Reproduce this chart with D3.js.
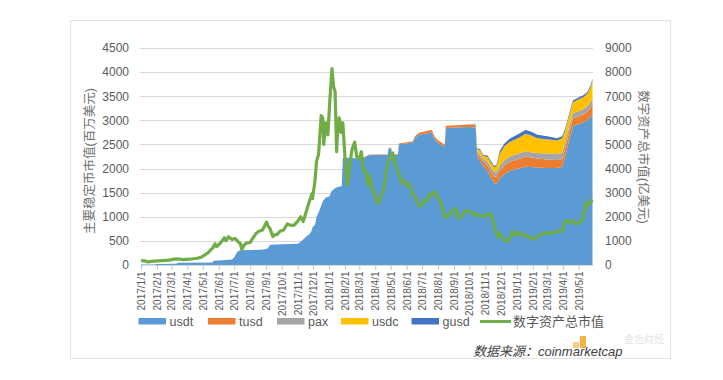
<!DOCTYPE html>
<html><head><meta charset="utf-8">
<script src="https://cdn.jsdelivr.net/npm/d3@7"></script>
<style>
html,body{margin:0;padding:0;background:#fff;}
svg{display:block;}
</style></head>
<body><svg id="c" width="723" height="380"></svg>
<script>
// ---------- DATA ----------
const stableDates = ["2017-01-01","2017-01-25","2017-02-01","2017-03-10","2017-03-15","2017-05-20","2017-05-22","2017-06-10","2017-06-27","2017-07-02","2017-07-06","2017-07-12","2017-08-01","2017-08-28","2017-09-04","2017-09-09","2017-10-01","2017-11-01","2017-11-05","2017-11-12","2017-11-18","2017-11-24","2017-11-28","2017-12-01","2017-12-05","2017-12-08","2017-12-12","2017-12-16","2017-12-20","2017-12-26","2018-01-02","2018-01-06","2018-01-14","2018-01-26","2018-01-28","2018-02-15","2018-03-01","2018-03-10","2018-03-20","2018-04-10","2018-04-25","2018-04-27","2018-05-02","2018-05-04","2018-05-15","2018-05-17","2018-06-13","2018-06-17","2018-06-25","2018-07-10","2018-07-20","2018-07-25","2018-08-01","2018-08-14","2018-08-16","2018-09-15","2018-10-01","2018-10-13","2018-10-16","2018-10-22","2018-10-28","2018-11-05","2018-11-12","2018-11-18","2018-11-22","2018-11-29","2018-12-08","2018-12-18","2019-01-05","2019-01-18","2019-01-28","2019-02-10","2019-03-01","2019-03-20","2019-03-30","2019-04-05","2019-04-12","2019-04-20","2019-04-30","2019-05-10","2019-05-18","2019-05-24","2019-05-28"];
const usdt = [10,10,20,25,45,50,90,100,115,170,260,305,310,320,340,420,430,440,460,530,590,640,700,800,830,1000,1090,1200,1320,1400,1420,1530,1600,1640,2230,2220,2210,2230,2280,2280,2280,2420,2420,2280,2280,2500,2540,2640,2700,2730,2745,2620,2530,2450,2840,2855,2860,2850,2250,2150,2050,1950,1800,1700,1680,1800,1880,1950,2000,2040,2030,2020,2010,2010,2030,2250,2550,2880,2920,2950,3000,3070,3140];
const tusd = [0,0,0,0,0,0,0,0,0,0,0,0,0,0,0,0,0,0,0,0,0,0,0,0,0,0,0,0,0,0,0,0,0,0,0,0,0,5,5,10,10,10,10,10,15,20,25,30,40,50,55,50,50,50,50,50,55,60,70,80,90,110,130,140,150,160,180,190,200,210,200,190,180,170,170,170,170,160,160,170,180,190,210];
const pax = [0,0,0,0,0,0,0,0,0,0,0,0,0,0,0,0,0,0,0,0,0,0,0,0,0,0,0,0,0,0,0,0,0,0,0,0,0,0,0,0,0,0,0,0,0,0,0,0,0,0,0,0,0,0,0,0,5,10,40,50,60,80,90,90,90,100,110,110,110,110,110,110,120,120,125,120,115,110,110,110,110,110,110];
const usdc = [0,0,0,0,0,0,0,0,0,0,0,0,0,0,0,0,0,0,0,0,0,0,0,0,0,0,0,0,0,0,0,0,0,0,0,0,0,0,0,0,0,0,0,0,0,0,0,0,0,0,0,0,0,0,0,0,0,5,40,100,60,100,100,100,120,250,290,300,330,360,350,310,300,280,300,250,230,220,240,250,260,310,370];
const gusd = [0,0,0,0,0,0,0,0,0,0,0,0,0,0,0,0,0,0,0,0,0,0,0,0,0,0,0,0,0,0,0,0,0,0,0,0,0,0,0,0,0,0,0,0,0,0,0,0,0,0,0,0,0,0,0,0,0,5,20,20,20,30,30,30,30,60,60,70,80,80,80,70,60,50,45,40,40,40,40,40,40,40,40];

const mcapDates = ["2017-01-01","2017-01-08","2017-01-15","2017-01-25","2017-02-10","2017-02-25","2017-03-05","2017-03-14","2017-03-25","2017-04-06","2017-04-20","2017-04-28","2017-05-05","2017-05-12","2017-05-16","2017-05-20","2017-05-25","2017-05-28","2017-06-03","2017-06-08","2017-06-12","2017-06-15","2017-06-20","2017-06-27","2017-07-03","2017-07-09","2017-07-13","2017-07-16","2017-07-20","2017-07-24","2017-08-01","2017-08-06","2017-08-13","2017-08-18","2017-08-25","2017-08-31","2017-09-02","2017-09-05","2017-09-08","2017-09-14","2017-09-16","2017-09-22","2017-09-28","2017-10-05","2017-10-12","2017-10-18","2017-10-25","2017-11-01","2017-11-07","2017-11-12","2017-11-17","2017-11-25","2017-11-29","2017-11-30","2017-12-05","2017-12-08","2017-12-12","2017-12-17","2017-12-20","2017-12-22","2017-12-26","2017-12-30","2018-01-03","2018-01-07","2018-01-10","2018-01-13","2018-01-16","2018-01-18","2018-01-21","2018-01-24","2018-01-28","2018-02-02","2018-02-06","2018-02-10","2018-02-15","2018-02-20","2018-02-24","2018-03-01","2018-03-05","2018-03-09","2018-03-13","2018-03-18","2018-03-21","2018-03-27","2018-04-01","2018-04-06","2018-04-11","2018-04-17","2018-04-22","2018-04-26","2018-05-05","2018-05-10","2018-05-13","2018-05-17","2018-05-23","2018-05-28","2018-06-01","2018-06-07","2018-06-12","2018-06-18","2018-06-24","2018-06-29","2018-07-05","2018-07-10","2018-07-16","2018-07-20","2018-07-25","2018-07-30","2018-08-05","2018-08-10","2018-08-14","2018-08-18","2018-08-22","2018-08-28","2018-09-04","2018-09-08","2018-09-12","2018-09-18","2018-09-22","2018-09-28","2018-10-05","2018-10-11","2018-10-15","2018-10-22","2018-10-30","2018-11-06","2018-11-13","2018-11-16","2018-11-20","2018-11-25","2018-11-28","2018-12-03","2018-12-07","2018-12-14","2018-12-19","2018-12-24","2018-12-29","2019-01-06","2019-01-10","2019-01-18","2019-01-28","2019-02-05","2019-02-10","2019-02-18","2019-02-24","2019-03-01","2019-03-10","2019-03-18","2019-03-25","2019-03-31","2019-04-03","2019-04-08","2019-04-14","2019-04-20","2019-04-26","2019-05-01","2019-05-08","2019-05-12","2019-05-16","2019-05-18","2019-05-22","2019-05-28"];
const mcap = [180,170,130,160,180,200,240,250,220,240,280,320,420,520,620,700,880,760,880,1020,1130,1000,1170,1060,1100,960,880,640,820,900,940,1100,1320,1400,1450,1700,1780,1600,1540,1180,1250,1260,1400,1450,1700,1650,1640,1800,2000,1800,2150,2700,2950,2750,3500,4300,4600,6200,6100,5000,5900,5400,6900,8150,7400,7200,4700,5600,6100,5500,5900,4200,3300,4100,4800,5100,4500,4400,4700,3900,3900,3300,3700,3100,2800,2550,2800,3100,3800,4300,4650,4200,3950,3750,3400,3500,3300,3350,2950,2800,2500,2450,2700,2650,2950,2900,3050,2850,2650,2300,1950,2050,2050,2250,2350,1950,1950,2100,2250,2200,2200,2050,2100,2050,2000,2150,2050,1750,1500,1150,1300,1200,1050,960,1150,1400,1250,1350,1220,1250,1100,1080,1200,1250,1350,1300,1330,1400,1380,1450,1750,1850,1750,1850,1700,1750,1850,2250,2600,2450,2550,2700];

const seriesKeys = ["usdt","tusd","pax","usdc","gusd"];
const seriesColors = ["#5B9BD5","#ED7D31","#A5A5A5","#FFC000","#4472C4"];
const lineName = "数字资产总市值";
const lineColor = "#70AD47";
const leftTicks = [0,500,1000,1500,2000,2500,3000,3500,4000,4500];
const rightTicks = [0,1000,2000,3000,4000,5000,6000,7000,8000,9000];
const leftTitle = "主要稳定币市值(百万美元)";
const rightTitle = "数字资产总市值(亿美元)";
const sourceText = "数据来源：coinmarketcap";
const watermarkText = "金色财经";

// ---------- CHART ----------
const parse = d3.utcParse("%Y-%m-%d");
const svg = d3.select("#c");
const latin = "'Liberation Sans', Arial, sans-serif";
const cjk = "'Liberation Sans','Noto Sans CJK SC', sans-serif";

// frame
svg.append("rect").attr("x",70.5).attr("y",20.5).attr("width",600).attr("height",338)
  .attr("fill","none").attr("stroke","#e3e3e3");

const x = d3.scaleUtc().domain([parse("2017-01-01"), parse("2019-05-28")]).range([141, 592.5]);
const yL = d3.scaleLinear().domain([0,4500]).range([265,48]);
const yR = d3.scaleLinear().domain([0,9000]).range([265,48]);

// gridlines
svg.append("g").selectAll("line").data(leftTicks).join("line")
  .attr("x1",140).attr("x2",593).attr("y1",d=>Math.round(yL(d))+0.5).attr("y2",d=>Math.round(yL(d))+0.5)
  .attr("stroke","#d9d9d9").attr("stroke-width",1);

// stacked areas
const rows = stableDates.map((d,i)=>({date:parse(d), usdt:usdt[i], tusd:tusd[i], pax:pax[i], usdc:usdc[i], gusd:gusd[i]}));
const stacked = d3.stack().keys(seriesKeys)(rows);
const area = d3.area().x(d=>x(d.data.date)).y0(d=>yL(d[0])).y1(d=>yL(d[1]));
svg.append("g").selectAll("path").data(stacked).join("path")
  .attr("d",area).attr("fill",(d,i)=>seriesColors[i]);

// x axis
const monthTicks = d3.utcMonth.range(parse("2017-01-01"), parse("2019-05-02"));
const xAxis = d3.axisBottom(x).tickValues(monthTicks).tickSize(4).tickFormat(d3.utcFormat("%Y/%-m/%-d"));
const gx = svg.append("g").attr("transform","translate(0,265.5)").call(xAxis);
gx.select(".domain").attr("stroke","#d9d9d9").attr("d","M140,0H593");
gx.selectAll(".tick line").attr("stroke","#bfbfbf");
gx.selectAll(".tick text").attr("font-family",latin).attr("font-size",10).attr("fill","#595959")
  .attr("text-anchor","end").attr("transform","rotate(-90)").attr("x",-6).attr("y",0).attr("dy","0.35em");

// line
const mrows = mcapDates.map((d,i)=>({date:parse(d), v:mcap[i]}));
svg.append("path").datum(mrows)
  .attr("d", d3.line().x(d=>x(d.date)).y(d=>yR(d.v)))
  .attr("fill","none").attr("stroke",lineColor).attr("stroke-width",3.2).attr("stroke-linejoin","round");

// left axis
const gl = svg.append("g").attr("transform","translate(129,0)")
  .call(d3.axisLeft(yL).tickValues(leftTicks).tickSize(0).tickPadding(0).tickFormat(d3.format("d")));
gl.select(".domain").remove();
gl.selectAll("text").attr("font-family",latin).attr("font-size",12).attr("fill","#595959");

// right axis
const gr = svg.append("g").attr("transform","translate(605,0)")
  .call(d3.axisRight(yR).tickValues(rightTicks).tickSize(0).tickPadding(0).tickFormat(d3.format("d")));
gr.select(".domain").remove();
gr.selectAll("text").attr("font-family",latin).attr("font-size",12).attr("fill","#595959");

// axis titles
svg.append("text").attr("transform","translate(94,161) rotate(-90)").attr("text-anchor","middle")
  .attr("font-family",cjk).attr("font-size",12.5).attr("fill","#6f6f6f").text(leftTitle);
svg.append("text").attr("transform","translate(639,157) rotate(90)").attr("text-anchor","middle")
  .attr("font-family",cjk).attr("font-size",12.5).attr("fill","#6f6f6f").text(rightTitle);

// legend
const legX = [138.5,208,277,341,411.5];
const lg = svg.append("g");
seriesKeys.forEach((k,i)=>{
  lg.append("rect").attr("x",legX[i]).attr("y",318).attr("width",27.5).attr("height",6.5).attr("fill",seriesColors[i]);
  lg.append("text").attr("x",legX[i]+31).attr("y",321.5).attr("dy","0.35em")
    .attr("font-family",latin).attr("font-size",12.5).attr("fill","#595959").text(k);
});
lg.append("line").attr("x1",480).attr("x2",511).attr("y1",321.5).attr("y2",321.5)
  .attr("stroke",lineColor).attr("stroke-width",3);
lg.append("text").attr("x",513).attr("y",321.5).attr("dy","0.35em")
  .attr("font-family",cjk).attr("font-size",13).attr("fill","#595959").text(lineName);

// watermark
svg.append("rect").attr("x",580).attr("y",336).attr("width",6).attr("height",12).attr("fill","#F5A623").attr("opacity",0.85);
svg.append("rect").attr("x",573).attr("y",342).attr("width",6).attr("height",6).attr("fill","#F8C471").attr("opacity",0.85);
svg.append("text").attr("x",624).attr("y",339).attr("dy","0.35em").attr("font-family",cjk)
  .attr("font-size",10).attr("fill","#e6e6e6").text(watermarkText);

// source
svg.append("text").attr("x",473).attr("y",351).attr("dy","0.35em")
  .attr("font-family",cjk).attr("font-style","italic").attr("font-size",13).attr("fill","#404040").text(sourceText);
</script></body></html>
